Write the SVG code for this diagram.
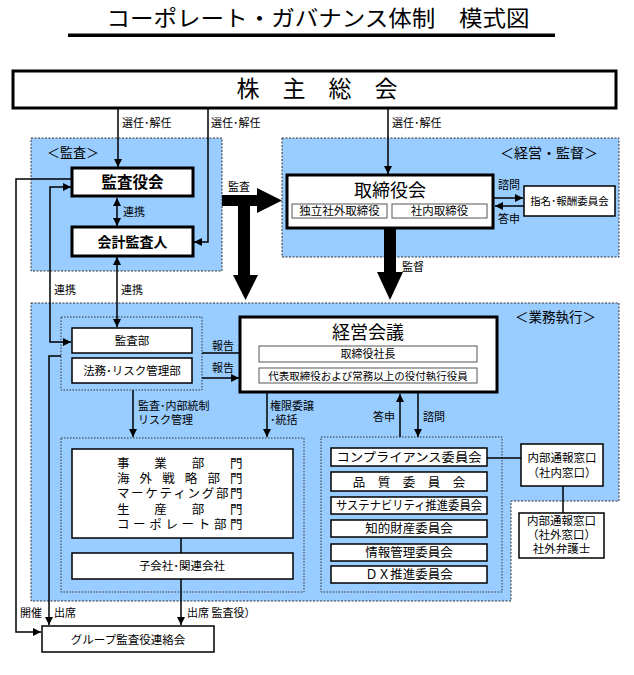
<svg xmlns="http://www.w3.org/2000/svg" width="634" height="675" viewBox="0 0 634 675">
<style>
text{font-family:"Noto Sans CJK JP","Noto Sans",sans-serif;fill:#000}
.l{font-size:11px}
.c{text-anchor:middle}
.b{font-weight:bold}
.box{fill:#fff;stroke:#000;stroke-width:1.5}
.thick{fill:#fff;stroke:#000;stroke-width:3}
.inner{fill:#fff;stroke:#555;stroke-width:1}
.area{fill:#99CCFF;stroke:#333;stroke-width:1;stroke-dasharray:2 1.5}
.grp{fill:none;stroke:#333;stroke-width:1;stroke-dasharray:1.5 1.5}
.ln{fill:none;stroke:#000;stroke-width:1.5}
.cm{font-size:12.5px}
.jb{font-size:12.5px}
</style>
<defs>
<marker id="ah" viewBox="0 0 10 10" refX="10" refY="5" markerWidth="8" markerHeight="8" markerUnits="userSpaceOnUse" orient="auto-start-reverse">
<path d="M0,0 L10,5 L0,10 Z" fill="#000"/>
</marker>
</defs>

<g id="title">
<text x="318" y="26" class="c" font-size="22" textLength="423" lengthAdjust="spacingAndGlyphs">コーポレート・ガバナンス体制　模式図</text>
<rect x="68" y="33.5" width="487" height="3.5" fill="#000"/>
</g>

<g id="areas">
<rect id="area-kansa" class="area" x="31" y="138" width="191" height="133"/>
<rect id="area-keiei" class="area" x="282" y="138" width="337" height="119"/>
<path id="area-gyomu" class="area" d="M31,303 H619 V501 H511 V601 H31 Z"/>
<text x="47" y="157" font-size="13">＜監査＞</text>
<text x="500" y="158" font-size="14">＜経営・監督＞</text>
<text x="515" y="322" font-size="13.5">＜業務執行＞</text>
<rect class="grp" x="61" y="317" width="141" height="73"/>
<rect class="grp" x="61" y="438" width="243" height="154"/>
<rect class="grp" x="321" y="437" width="181" height="155"/>
</g>

<g id="connectors">
<path class="ln" d="M118,109 V167" marker-end="url(#ah)"/>
<path class="ln" d="M208,109 V242 H194" marker-end="url(#ah)"/>
<path class="ln" d="M388,109 V174" marker-end="url(#ah)"/>
<path class="ln" d="M117,198 V226" marker-start="url(#ah)" marker-end="url(#ah)"/>
<path class="ln" d="M117,257 V327" marker-start="url(#ah)" marker-end="url(#ah)"/>
<path class="ln" d="M71,187 H50 V342 H71" marker-start="url(#ah)" marker-end="url(#ah)"/>
<path class="ln" d="M72,179 H16 V632 H41" marker-end="url(#ah)"/>
<path class="ln" d="M61,356 H49 V625" marker-end="url(#ah)"/>
<path class="ln" d="M181,579 V625" marker-end="url(#ah)"/>
<path class="ln" d="M181,538 V553"/>
<path class="ln" d="M494,198 H523" marker-end="url(#ah)"/>
<path class="ln" d="M524,206 H495" marker-end="url(#ah)"/>
<path class="ln" d="M202,353 H258" marker-end="url(#ah)"/>
<path class="ln" d="M202,378 H239" marker-end="url(#ah)"/>
<path class="ln" d="M133,390 V437" marker-end="url(#ah)"/>
<path class="ln" d="M267,393 V437" marker-end="url(#ah)"/>
<path class="ln" d="M400,437 V394" marker-end="url(#ah)"/>
<path class="ln" d="M418,393 V437" marker-end="url(#ah)"/>
<path class="ln" d="M487,458 H521"/>
<path class="ln" d="M563,486 V513"/>
<path d="M222,195 H257 V188 L282,200.5 L257,213 V206 H250 V275 H258 L245.5,300 L233,275 H238 V206 H222 Z" fill="#000"/>
<path d="M384,229 H396 V272 H403 L390,300 L377,272 H384 Z" fill="#000"/>
<text class="l" x="122" y="127">選任･解任</text>
<text class="l" x="211" y="127">選任･解任</text>
<text class="l" x="392" y="127">選任･解任</text>
<text class="l" x="123" y="216">連携</text>
<text class="l" x="54" y="294">連携</text>
<text class="l" x="121" y="294">連携</text>
<text class="l" x="228" y="191">監査</text>
<text class="l" x="402" y="271">監督</text>
<text class="l" x="498" y="189">諮問</text>
<text class="l" x="498" y="223">答申</text>
<text class="l" x="212" y="350">報告</text>
<text class="l" x="212" y="372">報告</text>
<text class="l" x="138" y="410">監査･内部統制</text>
<text class="l" x="138" y="424">リスク管理</text>
<text class="l" x="270" y="410">権限委譲</text>
<text class="l" x="270" y="424">･統括</text>
<text class="l" x="373" y="421">答申</text>
<text class="l" x="423" y="421">諮問</text>
<text class="l" x="20" y="617">開催</text>
<text class="l" x="54" y="617">出席</text>
<text class="l" x="187" y="617">出席 監査役）</text>
</g>

<g id="kabunushi">
<rect class="thick" x="13" y="71" width="603" height="37"/>
<text x="317" y="97" class="c" font-size="23">株　主　総　会</text>
</g>

<g id="kansayakukai">
<rect class="thick" x="72" y="168" width="121" height="28"/>
<text x="132.5" y="188" class="c b" font-size="15.5">監査役会</text>
</g>

<g id="kaikei">
<rect class="thick" x="72" y="227" width="121" height="29"/>
<text x="132.5" y="247" class="c b" font-size="14">会計監査人</text>
</g>

<g id="torishimariyakukai">
<rect class="thick" x="287" y="175" width="206" height="53"/>
<text x="390" y="197" class="c" font-size="18">取締役会</text>
<rect class="inner" x="292" y="204" width="95" height="14"/>
<text x="339.5" y="215" class="c" font-size="11.5">独立社外取締役</text>
<rect class="inner" x="392" y="204" width="95" height="14"/>
<text x="439.5" y="215" class="c" font-size="11.5">社内取締役</text>
</g>

<g id="shimei">
<rect class="box" x="524" y="186" width="91" height="30"/>
<text x="569.5" y="205" class="c" font-size="10.5">指名･報酬委員会</text>
</g>

<g id="keieikaigi">
<rect class="thick" x="240" y="317" width="257" height="75"/>
<text x="368" y="339" class="c" font-size="18">経営会議</text>
<rect class="inner" x="259" y="346" width="218" height="16"/>
<text x="368" y="358" class="c" font-size="11">取締役社長</text>
<rect class="inner" x="259" y="368" width="218" height="15"/>
<text x="368" y="379.5" class="c" font-size="10.5">代表取締役および常務以上の役付執行役員</text>
</g>

<g id="kansabu">
<rect class="box" x="72" y="328" width="120" height="25"/>
<text x="132" y="345" class="c" font-size="11.5">監査部</text>
</g>

<g id="homu">
<rect class="box" x="72" y="358" width="120" height="25"/>
<text x="132" y="375" class="c" font-size="11.5">法務･リスク管理部</text>
</g>

<g id="jigyobumon">
<rect class="box" x="72" y="449" width="221" height="89"/>
<text class="jb" y="468" x="117 154.3 191.7 230">事業部門</text>
<text class="jb" y="483" x="117 139.6 162.2 184.8 207.4 230">海外戦略部門</text>
<text class="jb" y="498" x="117 131.1 145.25 159.4 173.5 187.6 201.75 215.9 230">マーケティング部門</text>
<text class="jb" y="514" x="117 154.3 191.7 230">生産部門</text>
<text class="jb" y="529" x="117 133.1 149.3 165.4 181.6 197.7 213.9 230">コーポレート部門</text>
</g>

<g id="kogaisha">
<rect class="box" x="72" y="553" width="221" height="26"/>
<text x="182" y="570" class="c" font-size="11.5">子会社･関連会社</text>
</g>

<g id="group-kansa">
<rect class="box" x="42" y="626" width="172" height="26"/>
<text x="128" y="644" class="c" font-size="11.5">グループ監査役連絡会</text>
</g>

<g id="committees">
<rect class="box" x="331" y="448" width="156" height="18"/>
<text x="409" y="462" class="c cm" textLength="145" lengthAdjust="spacingAndGlyphs">コンプライアンス委員会</text>
<rect class="box" x="331" y="472" width="156" height="19"/>
<text x="409" y="486.5" class="c cm">品　質　委　員　会</text>
<rect class="box" x="331" y="497" width="156" height="17"/>
<text x="409" y="510" class="c cm" textLength="146" lengthAdjust="spacingAndGlyphs">サステナビリティ推進委員会</text>
<rect class="box" x="331" y="520" width="156" height="17"/>
<text x="409" y="533" class="c cm">知的財産委員会</text>
<rect class="box" x="331" y="544" width="156" height="17"/>
<text x="409" y="557" class="c cm">情報管理委員会</text>
<rect class="box" x="331" y="566" width="156" height="17"/>
<text x="409" y="579" class="c cm">ＤＸ推進委員会</text>
</g>

<g id="naibu-shanai">
<rect class="box" x="521" y="444" width="82" height="42"/>
<text x="562" y="462" class="c" font-size="11.5">内部通報窓口</text>
<text x="562" y="477" class="c" font-size="11.5">（社内窓口）</text>
</g>

<g id="naibu-shagai">
<rect class="box" x="519" y="513" width="85" height="45"/>
<text x="561.5" y="525" class="c" font-size="11.5">内部通報窓口</text>
<text x="561.5" y="539" class="c" font-size="11.5">（社外窓口）</text>
<text x="561.5" y="553" class="c" font-size="11.5">社外弁護士</text>
</g>
</svg>
